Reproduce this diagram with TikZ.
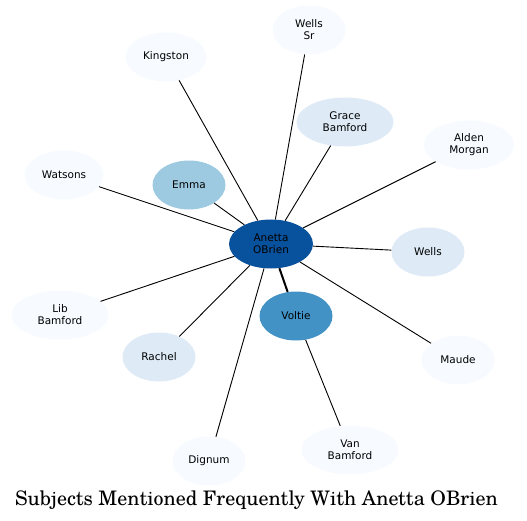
\documentclass[tikz,border=0pt]{standalone}
\usepackage{fontspec}
\usetikzlibrary{shapes.geometric}
\newfontfamily\labelfont{DejaVu Sans}
\newfontfamily\titlefont{TeX Gyre Schola}
\definecolor{rare}{HTML}{F7FBFF}
\definecolor{few}{HTML}{DEEBF7}
\definecolor{some}{HTML}{9ECAE1}
\definecolor{many}{HTML}{4292C6}
\definecolor{most}{HTML}{08519C}

\begin{document}
\begin{tikzpicture}[
    x=1pt, y=-1pt,
    every node/.style={font=\labelfont\fontsize{10.5}{12}\selectfont},
    subject/.style={ellipse, inner sep=0pt, minimum width=73pt,
        minimum height=49pt, align=center, fill=rare},
    link/.style={draw=black, line width=0.9pt}
]
    \useasboundingbox (0,0) rectangle (527,521);

    % --- Subjects ---
    \node[subject, fill=most, minimum width=84pt] (anetta) at (271,244) {Anetta\\OBrien};
    \node[subject, fill=many] (voltie) at (296,316) {Voltie};
    \node[subject, fill=some] (emma) at (189,185) {Emma};
    \node[subject, minimum width=81pt] (kingston) at (166,57) {Kingston};
    \node[subject] (wellssr) at (309,30) {Wells\\Sr};
    \node[subject, fill=few, minimum width=97pt] (grace) at (345,122) {Grace\\Bamford};
    \node[subject, minimum width=90pt] (alden) at (469,145) {Alden\\Morgan};
    \node[subject, minimum width=79pt] (watsons) at (64,175) {Watsons};
    \node[subject, fill=few] (wells) at (428,252) {Wells};
    \node[subject, minimum width=97pt] (lib) at (60,315) {Lib\\Bamford};
    \node[subject, fill=few] (rachel) at (159,357) {Rachel};
    \node[subject] (maude) at (458,360) {Maude};
    \node[subject, minimum width=97pt] (van) at (350,450) {Van\\Bamford};
    \node[subject] (dignum) at (209,461) {Dignum};

    % --- Mentions ---
    \path[link]
        (anetta) edge (kingston)
                 edge (wellssr)
                 edge (grace)
                 edge (alden)
                 edge (watsons)
                 edge (emma)
                 edge (wells)
                 edge (lib)
                 edge (rachel)
                 edge (maude)
                 edge (dignum)
                 edge [line width=2pt] (voltie)
        (voltie) edge (van);

    % --- Title ---
    \node[font=\titlefont\fontsize{20}{24}\selectfont, anchor=base] (title) at (256.5,505)
        {Subjects Mentioned Frequently With Anetta OBrien};

\end{tikzpicture}
\end{document}
